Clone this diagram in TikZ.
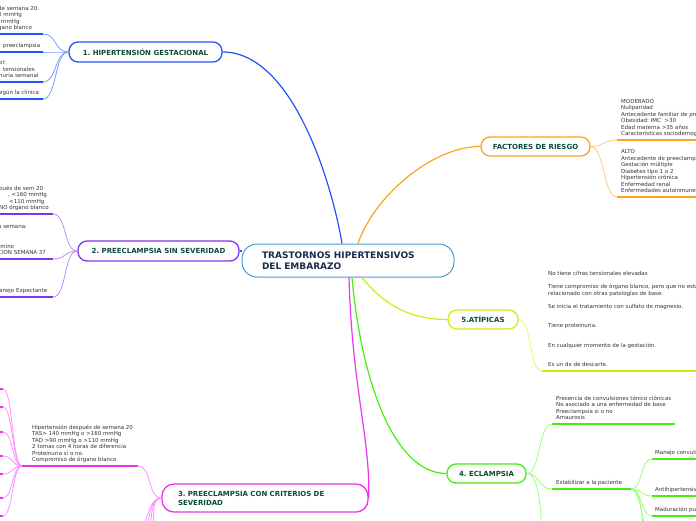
\documentclass[tikz,border=0pt]{standalone}
\usepackage{fontspec}
\setmainfont{DejaVu Sans}
\usetikzlibrary{calc}
\usepackage{xcolor}
\definecolor{rootblue}{HTML}{4A9AD4}
\definecolor{rootnavy}{HTML}{1B2B4E}
\definecolor{titlegreen}{HTML}{0E4B36}
\definecolor{bodygray}{HTML}{333333}
\definecolor{blueA}{HTML}{2255F5}
\definecolor{blueL}{HTML}{7F9BFF}
\definecolor{orangeA}{HTML}{FFA11F}
\definecolor{orangeL}{HTML}{FFCB7A}
\definecolor{purpleA}{HTML}{8033EE}
\definecolor{purpleL}{HTML}{B690FF}
\definecolor{magA}{HTML}{EE33EE}
\definecolor{magL}{HTML}{FF8FFF}
\definecolor{limeA}{HTML}{CCEE11}
\definecolor{limeL}{HTML}{E2FF5A}
\definecolor{greenA}{HTML}{44EE11}
\definecolor{greenL}{HTML}{9CFF7A}
\frenchspacing

\begin{document}
\begin{tikzpicture}[x=1pt,y=-1pt,
    topic/.style={draw, fill=white, rounded corners=9pt, line width=1.3pt, inner sep=0pt,
      text=titlegreen, font=\bfseries\fontsize{7}{9}\selectfont},
    leaf/.style={anchor=south west, inner sep=0pt, align=left, text=bodygray,
      text depth=1.2pt, font=\fontsize{5.5}{6.5}\selectfont},
    branch/.style={line width=0.8pt},
    uline/.style={line width=1.8pt}]
    \useasboundingbox (0,0) rectangle (696,520);
    \clip (0,0) rectangle (696,520);
    % temas
    \node[topic, draw=rootblue, line width=1pt, rounded corners=15pt, minimum width=212pt, minimum height=33pt,
      text width=172pt, align=left, text=rootnavy, font=\bfseries\fontsize{9}{11}\selectfont]
      (root) at (348,260.5) {TRASTORNOS HIPERTENSIVOS\\DEL EMBARAZO};
    \node[topic, draw=blueA, minimum width=153pt, minimum height=20pt] (hg) at (145.5,52) {1. HIPERTENSIÓN GESTACIONAL};
    \node[topic, draw=orangeA, minimum width=109pt, minimum height=19pt] (fac) at (535.5,146.5) {FACTORES DE RIESGO};
    \node[topic, draw=purpleA, minimum width=161pt, minimum height=20pt] (psin) at (158.5,251) {2. PREECLAMPSIA SIN SEVERIDAD};
    \node[topic, draw=limeA, minimum width=70pt, minimum height=19pt] (atip) at (483,319.5) {5.ATÍPICAS};
    \node[topic, draw=greenA, minimum width=79pt, minimum height=19pt] (ecl) at (486.5,473.5) {4. ECLAMPSIA};
    \node[topic, draw=magA, rounded corners=12pt, minimum width=206pt, minimum height=28pt, text width=174pt, align=left]
      (pcs) at (265,498) {3. PREECLAMPSIA CON CRITERIOS DE\\SEVERIDAD};
    % ramas principales
    \draw[line width=1.2pt, blueA] ($(root.north)+(-6,0)$) .. controls +(-10,-60) and +(70,0) .. (hg.east);
    \draw[line width=1.2pt, orangeA] ($(root.north)+(10,0)$) .. controls +(15,-45) and +(-50,0) .. (fac.west);
    \draw[line width=1.2pt, purpleA] (psin.east) -- (psin.east -| root.west);
    \draw[line width=1.2pt, limeA] ($(root.south)+(14,0)$) .. controls +(20,25) and +(-40,0) .. (atip.west);
    \draw[line width=1.2pt, greenA] ($(root.south)+(4,0)$) .. controls +(10,110) and +(-50,0) .. (ecl.west);
    \draw[line width=1.2pt, magA] ($(root.south)+(1,0)$) .. controls +(3,110) and +(2,-58) .. (pcs.east);
    % hipertension gestacional
    \coordinate (b1) at (43,34); \coordinate (b2) at (43,52); \coordinate (b3) at (43,82); \coordinate (b4) at (43,99);
    \draw[uline, blueA] (b1) -- ++(-60,0); \draw[uline, blueA] (b2) -- ++(-60,0);
    \draw[uline, blueA] (b3) -- ++(-60,0); \draw[uline, blueA] (b4) -- ++(-60,0);
    \draw[branch, blueL] (hg.west) .. controls +(-14,0) and +(14,0) .. (b1);
    \draw[branch, blueL] (hg.west) .. controls +(-14,0) and +(14,0) .. (b2);
    \draw[branch, blueL] (hg.west) .. controls +(-14,0) and +(14,0) .. (b3);
    \draw[branch, blueL] (hg.west) .. controls +(-14,0) and +(14,0) .. (b4);
    \node[leaf] (b1t) at (-2,31) {de semana 20.\\0 mmHg\\\hspace*{3pt}mmHg\\gano blanco};
    \node[leaf] (b2t) at (3,49) {preeclampsia};
    \node[leaf] (b3t) at (-1,79) {ol:\\\hspace*{4pt}tensionales\\nuria semanal};
    \node[leaf] (b4t) at (-1,96) {egún la clínica};
    % preeclampsia sin severidad
    \coordinate (p1) at (53,214); \coordinate (p2) at (53,259); \coordinate (p3) at (53,297);
    \draw[uline, purpleA] (p1) -- ++(-70,0); \draw[uline, purpleA] (p2) -- ++(-70,0); \draw[uline, purpleA] (p3) -- ++(-70,0);
    \draw[branch, purpleL] (psin.west) .. controls +(-14,0) and +(14,0) .. (p1);
    \draw[branch, purpleL] (psin.west) .. controls +(-14,0) and +(14,0) .. (p2);
    \draw[branch, purpleL] (psin.west) .. controls +(-14,0) and +(14,0) .. (p3);
    \node[leaf] (p1t) at (-1,211) {pués de sem 20\\\hspace*{9pt}, <160 mmHg\\\hspace*{10pt}<110 mmHg\\NO órgano blanco};
    \node[leaf] (p2t) at (-2,256) {a semana:\\[13pt]rmino\\CIÓN SEMANA 37};
    \node[leaf] (p3t) at (-1,294) {anejo Expectante};
    % preeclampsia con criterios de severidad
    \coordinate (m1R) at (138,466); \coordinate (m1L) at (22,466);
    \draw[uline, magA] (m1L) -- (m1R);
    \draw[branch, magL] (pcs.west) .. controls +(-14,0) and +(14,0) .. (m1R);
    \node[leaf] (m1t) at (32,463) {Hipertensión después de semana 20\\TAS> 140 mmHg o >160 mmHg\\TAD >90 mmHg o >110 mmHg\\2 tomas con 4 horas de diferencia\\Proteinuria si o no.\\Compromiso de órgano blanco};
    \foreach \yy [count=\i] in {389,407,432,456,474,498,516} {
      \coordinate (s\i) at (3,\yy);
      \draw[uline, magA] (s\i) -- ++(-20,0);
      \draw[branch, magL] (m1L) .. controls +(-10,0) and +(10,0) .. (s\i);
    }
    \foreach \xx [count=\i] in {140,144,148,152} {
      \coordinate (q\i) at (\xx,560);
      \draw[branch, magL] (pcs.west) .. controls +(-12,0) and +(4,-40) .. (q\i);
    }
    % factores de riesgo
    \coordinate (o1) at (617,140); \coordinate (o2) at (617,197);
    \draw[uline, orangeA] (o1) -- ++(90,0); \draw[uline, orangeA] (o2) -- ++(90,0);
    \draw[branch, orangeL] (fac.east) .. controls +(14,0) and +(-14,0) .. (o1);
    \draw[branch, orangeL] (fac.east) .. controls +(14,0) and +(-14,0) .. (o2);
    \node[leaf] (o1t) at (621,137) {MODERADO\\Nuliparidad\\Antecedente familiar de pre\\Obesidad: IMC~ >30\\Edad materna >35 años\\Características sociodemog};
    \node[leaf] (o2t) at (621,194) {ALTO\\Antecedente de preeclamps\\Gestación múltiple\\Diabetes tipo 1 o 2\\Hipertensión crónica\\Enfermedad renal\\Enfermedades autoinmunes};
    % atipicas
    \coordinate (y1) at (542,371);
    \draw[uline, limeA] (y1) -- ++(170,0);
    \draw[branch, limeL] (atip.east) .. controls +(14,0) and +(-14,0) .. (y1);
    \node[leaf] (y1t) at (548,368) {No tiene cifras tensionales elevadas\\[6.5pt]Tiene compromiso de órgano blanco, pero que no esta\\relacionado con otras patologías de base.\\[6.5pt]Se inicia el tratamiento con sulfato de magnesio.\\[13pt]Tiene proteinuria.\\[13pt]En cualquier momento de la gestación.\\[13pt]Es un dx de descarte.};
    % eclampsia
    \coordinate (g1L) at (552,424); \coordinate (g1R) at (675,424);
    \coordinate (g2L) at (552,489); \coordinate (g2R) at (631,489);
    \coordinate (g3) at (542,560);
    \draw[uline, greenA] (g1L) -- (g1R); \draw[uline, greenA] (g2L) -- (g2R);
    \draw[branch, greenL] (ecl.east) .. controls +(14,0) and +(-14,0) .. (g1L);
    \draw[branch, greenL] (ecl.east) .. controls +(14,0) and +(-14,0) .. (g2L);
    \draw[branch, greenL] (ecl.east) .. controls +(14,0) and +(0,-40) .. (g3);
    \node[leaf] (g1t) at (556,421) {Presencia de convulsiones tónico clónicas\\No asociado a una enfermedad de base\\Preeclampsia si o no\\Amaurosis};
    \node[leaf] (g2t) at (556,486) {Estabilizar a la paciente};
    \coordinate (h1) at (652,459); \coordinate (h2) at (652,496); \coordinate (h3) at (652,516);
    \coordinate (h4) at (644,560); \coordinate (h5) at (648,580);
    \draw[uline, greenA] (h1) -- ++(60,0); \draw[uline, greenA] (h2) -- ++(60,0); \draw[uline, greenA] (h3) -- ++(60,0);
    \draw[branch, greenL] (g2R) .. controls +(12,0) and +(-12,0) .. (h1);
    \draw[branch, greenL] (g2R) .. controls +(12,0) and +(-12,0) .. (h2);
    \draw[branch, greenL] (g2R) .. controls +(12,0) and +(-12,0) .. (h3);
    \draw[branch, greenL] (g2R) .. controls +(10,0) and +(0,-40) .. (h4);
    \draw[branch, greenL] (g2R) .. controls +(10,0) and +(0,-40) .. (h5);
    \node[leaf] (h1t) at (655,456) {Manejo convuls};
    \node[leaf] (h2t) at (655,493) {Antihipertensiv};
    \node[leaf] (h3t) at (655,513) {Maduración pu};
\end{tikzpicture}
\end{document}
